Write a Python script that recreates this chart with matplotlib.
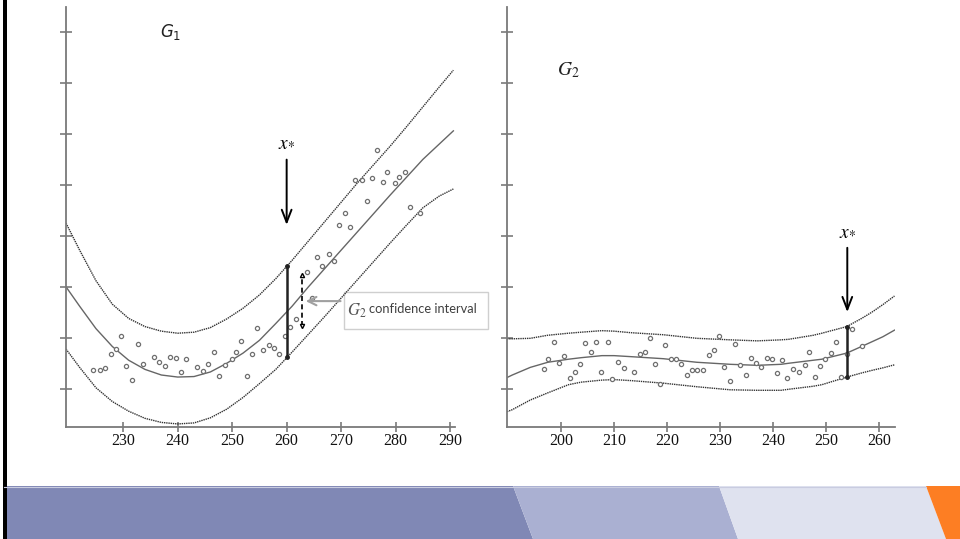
import matplotlib
matplotlib.use("Agg")
import matplotlib.pyplot as plt
from matplotlib.patches import Polygon, Rectangle

# ---- left panel (G1) : fitted curve with confidence band ----
g1_x = [219.5, 222, 225, 228, 231, 234, 237, 240, 243, 246, 249, 252, 255,
        258, 261, 264, 267, 270, 273, 276, 279, 282, 285, 288, 290.6]
g1_mid = [3.00, 2.62, 2.18, 1.83, 1.56, 1.38, 1.27, 1.23, 1.24, 1.33, 1.50, 1.70, 1.95,
          2.28, 2.62, 3.00, 3.36, 3.72, 4.08, 4.44, 4.80, 5.15, 5.50, 5.80, 6.06]
g1_up = [4.25, 3.72, 3.12, 2.66, 2.38, 2.22, 2.13, 2.09, 2.11, 2.20, 2.37, 2.58, 2.84,
         3.16, 3.52, 3.90, 4.28, 4.66, 5.04, 5.40, 5.76, 6.14, 6.53, 6.92, 7.25]
g1_lo = [1.78, 1.42, 1.02, 0.75, 0.56, 0.42, 0.34, 0.31, 0.33, 0.43, 0.60, 0.83, 1.10,
         1.38, 1.72, 2.07, 2.42, 2.78, 3.14, 3.50, 3.86, 4.21, 4.55, 4.78, 4.92]

g1_px = [224.5, 225.7, 226.7, 227.7, 228.6, 229.6, 230.6, 231.7, 232.7, 233.7, 235.6, 236.5,
         237.7, 238.6, 239.7, 240.6, 241.6, 243.6, 244.7, 245.6, 246.6, 247.6, 248.6, 249.9,
         250.7, 251.6, 252.7, 253.6, 254.5, 255.7, 256.7, 257.6, 258.6, 259.7, 260.6, 261.7,
         263.7, 264.7, 265.6, 266.5, 267.8, 268.7, 269.6, 270.7, 271.6, 272.6, 273.9, 274.7,
         275.7, 276.6, 277.6, 278.5, 279.8, 280.7, 281.7, 282.6, 284.5]
g1_py = [1.37, 1.37, 1.40, 1.68, 1.78, 2.04, 1.45, 1.17, 1.88, 1.48, 1.63, 1.53,
         1.45, 1.63, 1.61, 1.33, 1.58, 1.43, 1.35, 1.48, 1.73, 1.25, 1.47, 1.59,
         1.73, 1.94, 1.25, 1.69, 2.20, 1.76, 1.86, 1.80, 1.69, 2.04, 2.21, 2.37,
         3.29, 2.78, 3.58, 3.40, 3.65, 3.50, 4.22, 4.45, 4.18, 5.09, 5.10, 4.68,
         5.14, 5.68, 5.06, 5.26, 5.04, 5.16, 5.26, 4.57, 4.45]

g1_xstar = 260.0
g1_int = [1.62, 3.40]
g2ci_x = 262.8
g2ci_int = [2.24, 3.24]
g1_ticks = [230, 240, 250, 260, 270, 280, 290]

# ---- right panel (G2) ----
g2_x = [189.8, 190.8, 194.2, 197.5, 201.4, 203.8, 207.7, 210.0, 213.2, 219.3, 225.6, 231.9,
        237.0, 241.5, 242.9, 247.6, 249.2, 253.9, 256.7, 258.6, 260.7, 262.9]
g2_mid = [1.22, 1.27, 1.42, 1.52, 1.58, 1.61, 1.65, 1.65, 1.63, 1.59, 1.52, 1.48,
          1.46, 1.48, 1.50, 1.56, 1.58, 1.70, 1.83, 1.92, 2.02, 2.15]
g2_up = [1.98, 1.98, 1.99, 2.05, 2.09, 2.11, 2.14, 2.13, 2.10, 2.06, 1.99, 1.96,
         1.94, 1.96, 1.97, 2.05, 2.09, 2.22, 2.38, 2.50, 2.65, 2.82]
g2_lo = [0.55, 0.59, 0.78, 0.92, 1.08, 1.13, 1.17, 1.18, 1.16, 1.11, 1.04, 0.98,
         0.97, 0.97, 0.99, 1.05, 1.08, 1.23, 1.31, 1.36, 1.41, 1.47]

g2_px = [196.7, 197.6, 198.7, 199.6, 200.6, 201.6, 202.6, 203.6, 204.6, 205.6, 206.5, 207.5,
         208.8, 209.7, 210.8, 211.8, 213.7, 214.8, 215.8, 216.8, 217.7, 218.7, 219.7, 220.7,
         221.7, 222.6, 223.7, 224.7, 225.7, 226.8, 227.9, 228.9, 229.8, 230.8, 231.8, 232.8,
         233.8, 234.8, 235.8, 236.8, 237.7, 238.8, 239.8, 240.8, 241.7, 242.7, 243.7, 244.9,
         246.0, 246.8, 247.9, 248.9, 249.8, 250.9, 251.9, 252.9, 253.9, 254.9, 256.8]
g2_py = [1.39, 1.58, 1.91, 1.51, 1.64, 1.21, 1.33, 1.48, 1.90, 1.72, 1.92, 1.33,
         1.92, 1.20, 1.52, 1.41, 1.33, 1.69, 1.72, 2.00, 1.49, 1.09, 1.85, 1.59,
         1.59, 1.48, 1.28, 1.36, 1.36, 1.37, 1.66, 1.77, 2.03, 1.43, 1.15, 1.87,
         1.46, 1.28, 1.61, 1.51, 1.43, 1.61, 1.58, 1.30, 1.56, 1.22, 1.39, 1.33,
         1.46, 1.72, 1.23, 1.45, 1.58, 1.71, 1.92, 1.23, 1.68, 2.17, 1.84]

g2_xstar = 254.0
g2_int = [1.24, 2.22]
g2_ticks = [200, 210, 220, 230, 240, 250, 260]

W, H = 960, 539
fig = plt.figure(figsize=(W / 100, H / 100), dpi=100)

# slide decoration (pixel coords)
bg = fig.add_axes([0, 0, 1, 1])
bg.set_xlim(0, W)
bg.set_ylim(H, 0)
bg.axis("off")
bg.add_patch(Polygon([(4, 486), (513, 486), (533, 539), (4, 539)], color="#8088b5", lw=0))
bg.add_patch(Polygon([(513, 486), (719, 486), (738, 539), (533, 539)], color="#aab0d2", lw=0))
bg.add_patch(Polygon([(719, 486), (926, 486), (946, 539), (738, 539)], color="#dfe2ef", lw=0))
bg.add_patch(Polygon([(926, 486), (960, 486), (960, 539), (946, 539)], color="#fd7e23", lw=0))
bg.plot([4, 926], [486.5, 486.5], color="#c9cce0", lw=0.8)
bg.add_patch(Rectangle((3, 0), 3.5, H, color="black", lw=0))

band = dict(color="#333333", lw=1.0, ls=(0, (1, 0.6)))
mid = dict(color="#666666", lw=1.0)
pts = dict(ls="none", marker="o", ms=3.0, mfc="white", mec="#6f6f6f", mew=0.9)


def setup(ax, lim, ticks):
    ax.set_facecolor("none")
    ax.set_xlim(*lim)
    ax.set_ylim(0.25, 8.49)
    for s in ["top", "right"]:
        ax.spines[s].set_visible(False)
    for s in ["left", "bottom"]:
        ax.spines[s].set_color("#7a7a7a")
        ax.spines[s].set_linewidth(1.3)
    ax.set_xticks(ticks)
    ax.set_yticks(range(1, 9))
    ax.set_yticklabels([])
    ax.tick_params(axis="y", direction="inout", length=8, width=1.2, color="#7a7a7a")
    ax.tick_params(axis="x", direction="inout", length=7, width=1.2, color="#7a7a7a", pad=1)
    for lab in ax.get_xticklabels():
        lab.set_fontfamily("Liberation Serif")
        lab.set_fontsize(11.5)
        lab.set_color("#111111")


# left panel
ax1 = fig.add_axes([66 / W, 112 / H, 389 / W, 420 / H])
setup(ax1, (219.5, 290.9), g1_ticks)
ax1.plot(g1_x, g1_up, **band)
ax1.plot(g1_x, g1_lo, **band)
ax1.plot(g1_x, g1_mid, **mid)
ax1.plot(g1_px, g1_py, **pts)
ax1.plot([g1_xstar, g1_xstar], g1_int, color="#222222", lw=1.8, marker="o", ms=2.5)
ax1.plot([g2ci_x, g2ci_x], g2ci_int, color="black", lw=1.2, ls=(0, (3, 2)))
ax1.plot([g2ci_x], [g2ci_int[1]], marker="^", ms=3, color="black", mfc="white")
ax1.plot([g2ci_x], [g2ci_int[0]], marker="v", ms=3, color="black", mfc="white")
ax1.annotate("", xy=(g1_xstar, 4.16), xytext=(g1_xstar, 5.55),
             arrowprops=dict(arrowstyle="->,head_length=0.9,head_width=0.35", color="black", lw=1.4))
ax1.text(g1_xstar, 5.85, r"$x_{\!*}$", ha="center", va="center", fontsize=14, math_fontfamily="stix")
ax1.text(0.242, 0.94, r"$\mathit{G}_1$", transform=ax1.transAxes, ha="left", va="center",
         fontsize=12, math_fontfamily="dejavusans", color="#222222")
ax1.annotate("", xy=(g2ci_x + 0.2, 2.72), xytext=(g2ci_x + 7.6, 2.72),
             arrowprops=dict(arrowstyle="->,head_length=0.6,head_width=0.3", color="#a0a0a0", lw=1.5))

# callout box
bg.add_patch(Rectangle((344, 292), 144, 37, fill=False, ec="#cfcfcf", lw=1))
bg.text(347, 311, r"$G_2$", ha="left", va="center", fontsize=12, math_fontfamily="stix", color="#555555")
bg.text(369, 309, "confidence interval", ha="left", va="center", fontsize=9.3,
        family=["Lato", "DejaVu Sans"], color="#404040")

# right panel
ax2 = fig.add_axes([507 / W, 112 / H, 388 / W, 420 / H])
setup(ax2, (189.8, 263.0), g2_ticks)
ax2.plot(g2_x, g2_up, **band)
ax2.plot(g2_x, g2_lo, **band)
ax2.plot(g2_x, g2_mid, **mid)
ax2.plot(g2_px, g2_py, **pts)
ax2.plot([g2_xstar, g2_xstar], g2_int, color="#222222", lw=1.8, marker="o", ms=2.5)
ax2.annotate("", xy=(g2_xstar, 2.45), xytext=(g2_xstar, 3.82),
             arrowprops=dict(arrowstyle="->,head_length=0.9,head_width=0.35", color="black", lw=1.4))
ax2.text(g2_xstar, 4.1, r"$x_{\!*}$", ha="center", va="center", fontsize=14, math_fontfamily="stix")
ax2.text(0.129, 0.85, r"$G_2$", transform=ax2.transAxes, ha="left", va="center",
         fontsize=14, math_fontfamily="stix", color="#222222")

fig.savefig("out.png", dpi=100)
